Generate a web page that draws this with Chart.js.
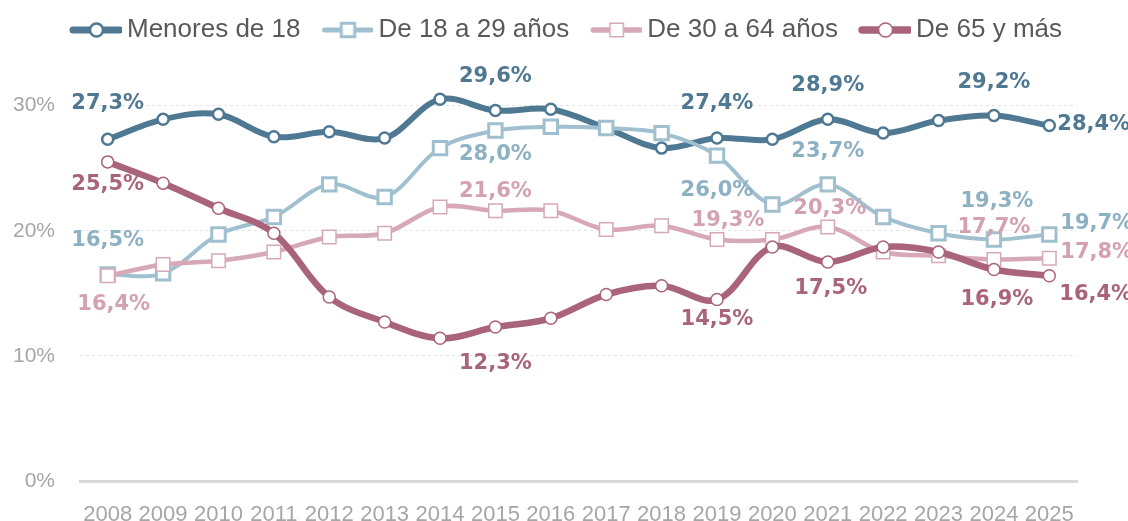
<!DOCTYPE html>
<html>
<head>
<meta charset="utf-8">
<script src="https://cdn.jsdelivr.net/npm/chart.js@4.4.1/dist/chart.umd.min.js"></script>
<style>
  html, body { margin: 0; padding: 0; background: #fff; }
  #wrap { width: 1128px; height: 521px; position: relative; }
</style>
</head>
<body>
<div id="wrap"><canvas id="chart"></canvas></div>
<script>
const years = ['2008', '2009', '2010', '2011', '2012', '2013', '2014', '2015', '2016',
    '2017', '2018', '2019', '2020', '2021', '2022', '2023', '2024', '2025']

const menores18 = [27.3, 28.9, 29.3, 27.5, 27.9, 27.4, 30.5, 29.6, 29.7, 28.2, 26.6, 27.4, 27.3, 28.9, 27.8, 28.8, 29.2, 28.4]
const de18a29 = [16.5, 16.6, 19.7, 21.1, 23.7, 22.7, 26.6, 28.0, 28.3, 28.2, 27.8, 26.0, 22.1, 23.7, 21.1, 19.8, 19.3, 19.7]
const de30a64 = [16.4, 17.3, 17.6, 18.3, 19.5, 19.8, 21.9, 21.6, 21.6, 20.1, 20.4, 19.3, 19.3, 20.3, 18.3, 18.0, 17.7, 17.8]
const de65ymas = [25.5, 23.8, 21.8, 19.8, 14.7, 12.7, 11.4, 12.3, 13.0, 14.9, 15.6, 14.5, 18.7, 17.5, 18.7, 18.3, 16.9, 16.4]

const yTicks = [0, 10, 20, 30]

// points that carry a value label, offset from the point (px)
const labelSpots = [
    {ds: 0, i: 0, dx: 0, dy: -36}, {ds: 0, i: 7, dx: 0, dy: -34}, {ds: 0, i: 11, dx: 0, dy: -35},
    {ds: 0, i: 13, dx: 0, dy: -34}, {ds: 0, i: 16, dx: 0, dy: -33}, {ds: 0, i: 17, dx: 8, dy: -1, align: 'left'},
    {ds: 1, i: 0, dx: 0, dy: -34}, {ds: 1, i: 7, dx: 0, dy: 24}, {ds: 1, i: 11, dx: 0, dy: 35},
    {ds: 1, i: 13, dx: 0, dy: -33}, {ds: 1, i: 16, dx: 3, dy: -38}, {ds: 1, i: 17, dx: 11, dy: -11, align: 'left'},
    {ds: 2, i: 0, dx: 6, dy: 29}, {ds: 2, i: 7, dx: 0, dy: -19}, {ds: 2, i: 11, dx: 11, dy: -19},
    {ds: 2, i: 13, dx: 2, dy: -18}, {ds: 2, i: 16, dx: 0, dy: -32}, {ds: 2, i: 17, dx: 11, dy: -6, align: 'left'},
    {ds: 3, i: 0, dx: 0, dy: 23}, {ds: 3, i: 7, dx: 0, dy: 36}, {ds: 3, i: 11, dx: 0, dy: 20},
    {ds: 3, i: 13, dx: 3, dy: 27}, {ds: 3, i: 16, dx: 3, dy: 30}, {ds: 3, i: 17, dx: 10, dy: 19, align: 'left'}
]

function fmt(v) {
    return v.toFixed(1).replace('.', ',') + '%'
}

// line + marker icon for the legend
function legendIcon(ds) {
    const c = document.createElement('canvas')
    c.width = 64
    c.height = 22
    const g = c.getContext('2d')
    g.strokeStyle = ds.borderColor
    g.lineCap = 'round'
    g.lineWidth = ds.borderWidth + 1
    g.beginPath()
    g.moveTo(15, 11)
    g.lineTo(62, 11)
    g.stroke()
    g.fillStyle = '#fff'
    g.lineWidth = ds.pointBorderWidth
    g.beginPath()
    if (ds.pointStyle == 'rect') {
        const h = ds.pointRadius * Math.SQRT1_2
        g.rect(38.5 - h, 11 - h, 2 * h, 2 * h)
    } else {
        g.arc(38.5, 11, ds.pointRadius + 1, 0, Math.PI * 2)
    }
    g.fill()
    g.stroke()
    return c
}

const valueLabels = {
    id: 'valueLabels',
    afterDatasetsDraw(chart) {
        const ctx = chart.ctx
        ctx.save()
        ctx.font = 'bold 21px "DejaVu Sans"'
        ctx.textBaseline = 'middle'
        for (let s of labelSpots) {
            const ds = chart.data.datasets[s.ds]
            const pt = chart.getDatasetMeta(s.ds).data[s.i]
            ctx.fillStyle = ds.labelColor
            ctx.textAlign = s.align || 'center'
            ctx.fillText(fmt(ds.data[s.i]), pt.x + s.dx, pt.y + s.dy)
        }
        ctx.restore()
    }
}

const data = {
    labels: years,
    datasets: [{
        label: 'Menores de 18',
        data: menores18,
        borderColor: '#4f7893',
        labelColor: '#4f7893',
        borderWidth: 6,
        pointStyle: 'circle',
        pointRadius: 5.5,
        pointBorderWidth: 2.5,
        order: 4
    }, {
        label: 'De 18 a 29 años',
        data: de18a29,
        borderColor: '#a0c0d0',
        labelColor: '#8db0c2',
        borderWidth: 4,
        pointStyle: 'rect',
        pointRadius: 9.5,
        pointBorderWidth: 3,
        order: 3
    }, {
        label: 'De 30 a 64 años',
        data: de30a64,
        borderColor: '#d7a8b7',
        labelColor: '#d3a1b2',
        borderWidth: 4.5,
        pointStyle: 'rect',
        pointRadius: 9.5,
        pointBorderWidth: 1.5,
        order: 2
    }, {
        label: 'De 65 y más',
        data: de65ymas,
        borderColor: '#a9637b',
        labelColor: '#a9637b',
        borderWidth: 6.5,
        pointStyle: 'circle',
        pointRadius: 6,
        pointBorderWidth: 1.5,
        order: 1
    }]
}

for (let ds of data.datasets) {
    ds.pointBackgroundColor = '#fff'
    ds.pointBorderColor = ds.borderColor
    ds.tension = 0.35
}

const config = {
    type: 'line',
    data: data,
    options: {
        responsive: true,
        maintainAspectRatio: false,
        animation: false,
        layout: {padding: 0},
        scales: {
            x: {
                offset: true,
                grid: {display: false},
                border: {display: true, color: '#d9d9d9', width: 3},
                ticks: {font: {family: '"Liberation Sans"', size: 22}, color: '#a6a6a6', padding: 13, maxRotation: 0, autoSkip: false},
                afterFit: s => { s.height = 40 }
            },
            y: {
                min: 0,
                max: 34.2,
                afterBuildTicks: s => { s.ticks = yTicks.map(v => ({value: v})) },
                grid: {
                    color: c => c.tick.value === 0 ? 'rgba(0,0,0,0)' : '#e4e4e4',
                    lineWidth: 1,
                    drawTicks: false
                },
                border: {display: false, dash: [3, 3]},
                ticks: {font: {family: '"Liberation Sans"', size: 21}, color: '#a6a6a6', padding: 25, callback: v => v + '%'},
                afterFit: s => { s.width = 80 }
            },
            yR: {
                position: 'right',
                grid: {display: false},
                border: {display: false},
                ticks: {display: false},
                afterFit: s => { s.width = 51 }
            }
        },
        plugins: {
            tooltip: {enabled: false},
            legend: {
                position: 'top',
                labels: {
                    usePointStyle: true,
                    pointStyleWidth: 48,
                    padding: 17,
                    color: '#595959',
                    font: {family: '"Liberation Sans"', size: 26},
                    generateLabels: chart => chart.data.datasets.map((ds, i) => ({
                        text: ds.label,
                        pointStyle: legendIcon(ds),
                        fontColor: '#595959',
                        datasetIndex: i,
                        hidden: false,
                        lineWidth: 0,
                        strokeStyle: 'rgba(0,0,0,0)',
                        fillStyle: 'rgba(0,0,0,0)'
                    }))
                }
            }
        }
    },
    plugins: [valueLabels]
}

const chart = new Chart(document.getElementById('chart'), config)
</script>
</body>
</html>
